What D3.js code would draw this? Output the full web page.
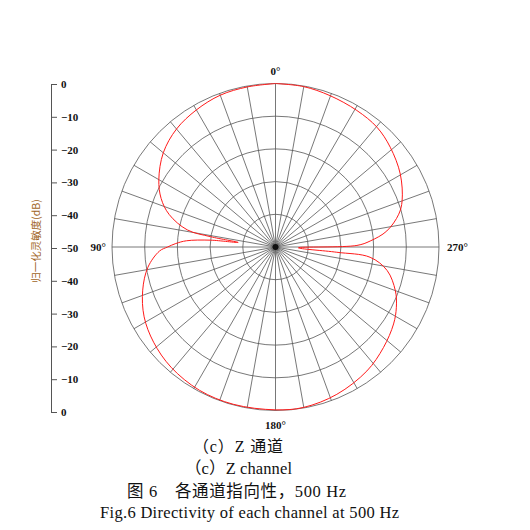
<!DOCTYPE html>
<html>
<head>
<meta charset="utf-8">
<script src="https://cdn.jsdelivr.net/npm/d3@7"></script>
<style>
  html, body { margin: 0; padding: 0; background: #fff; }
  svg { display: block; }
</style>
</head>
<body>
<svg id="chart" width="530" height="530"></svg>
<script>
// ---- data (angle in degrees, counter-clockwise from 0° at top; level in dB) ----
const angles = [0, 10, 20, 30, 40, 50, 60, 67, 73, 79, 81, 83, 84, 86, 88, 90, 92, 99, 108, 118, 128, 139, 152, 165, 180,
                190, 202.6, 216.4, 227.1, 236.9, 243.5, 250, 258.1, 263.8, 265.1, 268,
                271.1, 273.6, 278.2, 284.9, 290, 300.3, 311, 319.7, 329.2, 340.2, 350.1, 360];
const levels = [0, -0.3, -0.6, -1.6, -2.9, -5.2, -8.8, -12, -16, -22.5, -30, -38.5, -30, -22.7, -19.5, -17, -14.5, -10.5, -7.3, -4.5, -2.7, -1.3, -0.4, -0.2, -0.2,
                -0.2, -1.2, -2.9, -4.9, -6.9, -8.7, -11, -15.1, -20.9, -31.2, -43,
                -25.1, -21, -15.6, -11, -8.8, -5.8, -3.5, -2.0, -1.4, -0.8, -0.2, 0];
const ringLevels = [-40, -30, -20, -10, 0];
const spokeAngles = d3.range(0, 360, 10);
const angleLabels = [{a: 0, t: "0°"}, {a: 90, t: "90°"}, {a: 180, t: "180°"}, {a: 270, t: "270°"}];
const axisPositions = [0, 10, 20, 30, 40, 50, 60, 70, 80, 90, 100];
const axisTickLabels = ["0", "−10", "−20", "−30", "−40", "−50", "−40", "−30", "−20", "−10", "0"];
const axisTitle = "归一化灵敏度(dB)";
const captions = ["（c）Z 通道", "（c）Z channel", "图 6　各通道指向性，500 Hz", "Fig.6 Directivity of each channel at 500 Hz"];

// ---- layout ----
const svg = d3.select("#chart");
const cx = 275.5, cy = 247, R = 163.5;
const r = d3.scaleLinear().domain([-50, 0]).range([0, R]);
const toRad = a => -a * Math.PI / 180; // ccw degrees -> d3 radial angle (clockwise from top)

const g = svg.append("g").attr("transform", `translate(${cx},${cy})`);

// grid rings
g.selectAll("circle.ring").data(ringLevels).join("circle")
  .attr("class", "ring")
  .attr("r", d => r(d))
  .attr("fill", "none")
  .attr("stroke", "#555")
  .attr("stroke-width", 0.8);

// spokes
g.selectAll("line.spoke").data(spokeAngles).join("line")
  .attr("class", "spoke")
  .attr("x1", 0).attr("y1", 0)
  .attr("x2", d => Math.sin(toRad(d)) * R)
  .attr("y2", d => -Math.cos(toRad(d)) * R)
  .attr("stroke", "#555")
  .attr("stroke-width", 0.8);

// center dot (line convergence)
g.append("circle").attr("r", 3).attr("fill", "#111");

// data curve
const pts = angles.map((a, i) => [toRad(a), r(levels[i])]);
const line = d3.lineRadial().angle(d => d[0]).radius(d => d[1]).curve(d3.curveCatmullRom.alpha(0.5));
g.append("path")
  .attr("d", line(pts))
  .attr("fill", "none")
  .attr("stroke", "#ff1a1a")
  .attr("stroke-width", 1);

// angle labels
g.selectAll("text.ang").data(angleLabels).join("text")
  .attr("class", "ang")
  .attr("x", d => d.a === 90 ? -R - 6 : d.a === 270 ? R + 8 : 0)
  .attr("y", d => d.a === 0 ? -R - 9 : d.a === 180 ? R + 18 : 4)
  .attr("text-anchor", d => d.a === 90 ? "end" : d.a === 270 ? "start" : "middle")
  .attr("font-family", "'Liberation Serif', 'Times New Roman', serif")
  .attr("font-weight", "bold")
  .attr("font-size", 11)
  .attr("fill", "#111")
  .text(d => d.t);

// left radial axis
const yAxisScale = d3.scaleLinear().domain([0, 100]).range([84, 412]);
const axis = d3.axisRight(yAxisScale)
  .tickValues(axisPositions)
  .tickFormat((d, i) => axisTickLabels[i])
  .tickSize(6)
  .tickSizeOuter(0)
  .tickPadding(4);
const ax = svg.append("g").attr("transform", "translate(51,0)").call(axis);
ax.select(".domain").attr("stroke", "#555").attr("stroke-width", 1);
ax.selectAll(".tick line").attr("stroke", "#555").attr("stroke-width", 1);
ax.selectAll(".tick text")
  .attr("font-family", "'Liberation Serif', 'Times New Roman', serif")
  .attr("font-weight", "bold")
  .attr("font-size", 11)
  .attr("fill", "#111");

svg.append("text")
  .attr("transform", "translate(40,241) rotate(-90)")
  .attr("text-anchor", "middle")
  .attr("font-family", "'Noto Sans CJK SC', sans-serif")
  .attr("font-size", 10.5)
  .attr("fill", "#a0641e")
  .text(axisTitle);

// captions
const capY = [452, 474, 497, 518];
const capX = [193, 185, 127, 100];
const capW = [90, 107, 219, 299];
const capS = [16, 16.5, 16.5, 16.5];
svg.selectAll("text.cap").data(captions).join("text")
  .attr("class", "cap")
  .attr("x", (d, i) => capX[i])
  .attr("y", (d, i) => capY[i])
  .attr("text-anchor", "start")
  .attr("textLength", (d, i) => capW[i])
  .attr("lengthAdjust", "spacing")
  .attr("font-family", "'Liberation Serif', 'Times New Roman', 'Noto Sans CJK SC', serif")
  .attr("font-size", (d, i) => capS[i])
  .attr("fill", "#111")
  .text(d => d);
</script>
</body>
</html>
